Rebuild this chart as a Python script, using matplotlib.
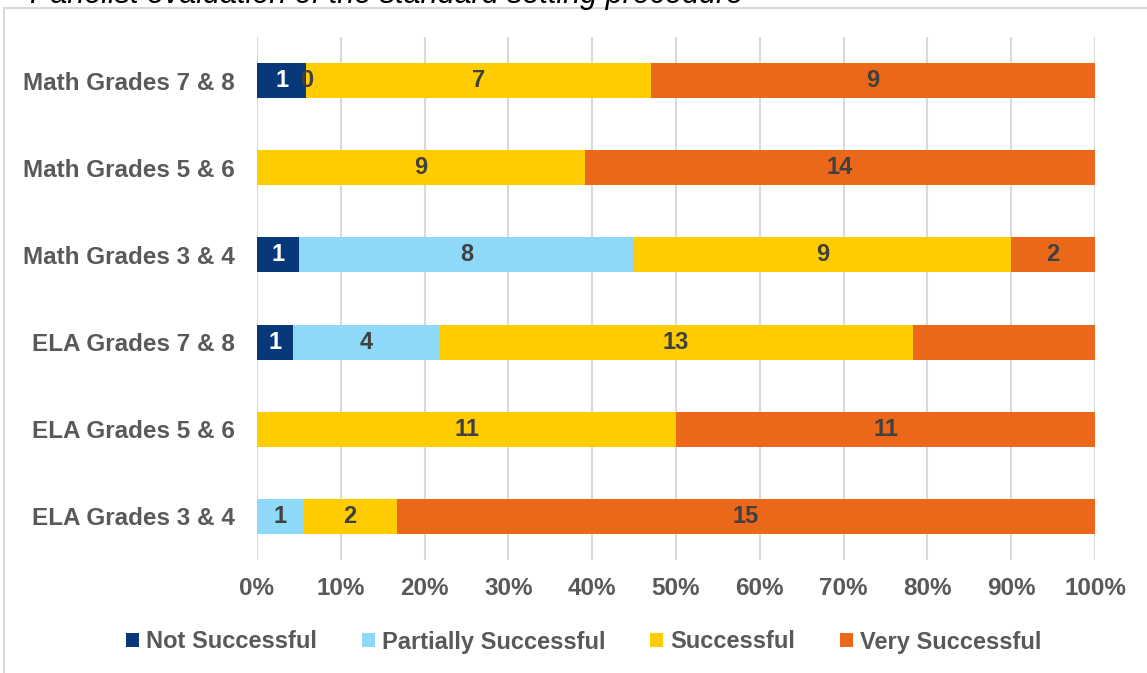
import numpy as np
import matplotlib.pyplot as plt
from matplotlib.lines import Line2D

plt.rcParams['font.family'] = ['Liberation Sans', 'DejaVu Sans']

categories = ["Math Grades 7 & 8", "Math Grades 5 & 6", "Math Grades 3 & 4",
              "ELA Grades 7 & 8", "ELA Grades 5 & 6", "ELA Grades 3 & 4"]
series_names = ["Not Successful", "Partially Successful", "Successful", "Very Successful"]
# nan = empty cell (no label drawn)
not_successful = [1, np.nan, 1, 1, np.nan, np.nan]
partially_successful = [0, np.nan, 8, 4, np.nan, 1]
successful = [7, 9, 9, 13, 11, 2]
very_successful = [9, 14, 2, 5, 11, 15]
# labels that the original chart leaves out
hidden_labels = [(3, 3)]
x_ticks = [0, 10, 20, 30, 40, 50, 60, 70, 80, 90, 100]

colors = ["#07397A", "#8ED8F8", "#FFCC00", "#EB671A"]
label_colors = ["white", "#404040", "#404040", "#404040"]

values = np.array([not_successful, partially_successful, successful, very_successful], dtype=float)
filled = np.nan_to_num(values)
totals = filled.sum(axis=0)
pct = filled / totals * 100

fig = plt.figure(figsize=(11.47, 6.73), dpi=100)
ax = fig.add_axes([257 / 1147, 1 - 560 / 673, (1095 - 257) / 1147, (560 - 37) / 673])

# outer chart frame, partly cut off like in the source
fig.add_artist(Line2D([4 / 1147, 4 / 1147], [0, 1 - 8 / 673], transform=fig.transFigure,
                      color="#d9d9d9", lw=1.5))
fig.add_artist(Line2D([4 / 1147, 1], [1 - 8 / 673, 1 - 8 / 673], transform=fig.transFigure,
                      color="#d9d9d9", lw=1.5))
# caption above the chart, mostly outside the picture
fig.text(30 / 1147, 1 - 3 / 673, "Panelist evaluation of the standard setting procedure",
         fontsize=22, style="italic", color="black", va="baseline", ha="left")

y = np.arange(len(categories))
left = np.zeros(len(categories))
for i, name in enumerate(series_names):
    ax.barh(y, pct[i], left=left, height=0.4, color=colors[i], label=name, zorder=3)
    for j in range(len(categories)):
        if np.isnan(values[i, j]) or (i, j) in hidden_labels:
            continue
        ax.text(left[j] + pct[i, j] / 2, y[j], f"{int(values[i, j])}", ha="center", va="center",
                fontsize=17, fontweight="bold", color=label_colors[i], zorder=4)
    left += pct[i]

ax.set_ylim(len(categories) - 0.5, -0.5)
ax.set_yticks(y)
ax.set_yticklabels(categories)
ax.set_xlim(0, 100)
ax.set_xticks(x_ticks)
ax.set_xticklabels([f"{t}%" for t in x_ticks])
ax.tick_params(length=0, labelsize=17.5, labelcolor="#595959")
ax.tick_params(axis="y", pad=16)
ax.tick_params(axis="x", pad=12)
for lab in ax.get_xticklabels() + ax.get_yticklabels():
    lab.set_fontweight("bold")
ax.grid(axis="x", color="#d9d9d9", lw=1.5, zorder=0)
for s in ax.spines.values():
    s.set_visible(False)

leg = fig.legend(loc="center", bbox_to_anchor=(584 / 1147, 1 - 642 / 673), ncol=4, frameon=False,
                 handlelength=0.55, handleheight=0.55, handletextpad=0.3, columnspacing=1.9,
                 prop={"size": 17, "weight": "bold"})
for t in leg.get_texts():
    t.set_color("#595959")

fig.savefig("out.png", dpi=100)
